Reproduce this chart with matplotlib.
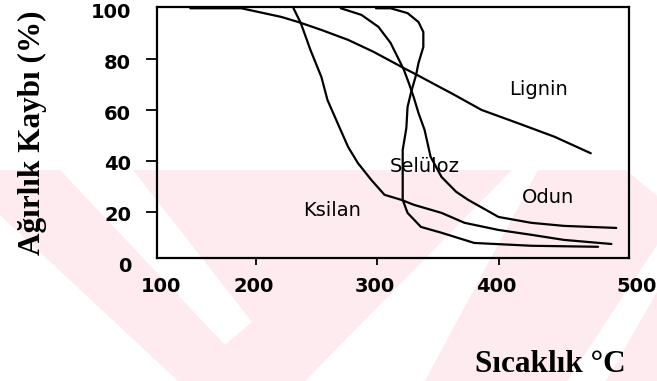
import matplotlib.pyplot as plt
import matplotlib.transforms as mtransforms
from matplotlib.patches import Polygon

# thermogravimetric curves (temperature, weight %)
lignin_x = [146, 188, 221, 235, 254, 276, 297, 322, 333, 353, 361, 386, 416, 446, 476]
lignin_y = [100, 100, 96.6, 94.6, 91.5, 87.6, 82.9, 76.5, 73.8, 68.7, 66.7, 60.1, 54.9, 49.6, 43.1]

ksilan_x = [231, 237, 245, 254, 259, 268, 276, 284, 295, 306, 320, 330, 353, 372, 400, 427, 454, 493]
ksilan_y = [100, 94.2, 83.6, 73.0, 64.0, 54.2, 45.6, 39.3, 32.7, 26.8, 24.8, 22.9, 19.7, 15.8, 13.0, 11.1, 9.1, 7.5]

seluloz_x = [299, 311, 325, 334, 338, 338, 334, 332, 328, 325, 324, 321, 321, 325, 336, 353, 380, 427, 482]
seluloz_y = [100, 100, 98.1, 94.6, 90.7, 84.8, 78.5, 73.8, 67.2, 61.3, 53.0, 44.4, 24.8, 19.7, 14.2, 11.9, 7.9, 6.8, 6.4]

odun_x = [270, 287, 301, 311, 318, 322, 326, 330, 334, 339, 344, 353, 365, 375, 400, 427, 454, 497]
odun_y = [100, 97.4, 92.7, 86.4, 79.7, 75.8, 70.7, 65.2, 58.9, 52.3, 41.7, 33.8, 28.0, 24.8, 18.1, 15.8, 14.6, 13.8]

x_ticks = [200, 300, 400]
x_tick_labels = ['100', '200', '300', '400', '500']
y_ticks = [20, 40, 60, 80]
y_tick_values = [100, 80, 60, 40, 20, 0]

curve_names = ['Lignin', 'Selüloz', 'Odun', 'Ksilan']
name_x = [433, 339, 441, 263]
name_y = [68, 38, 25.6, 20.5]

W, H = 657, 381
fig = plt.figure(figsize=(W / 100, H / 100), dpi=100)

# faint pink watermark of the scanned thesis page (pixel outlines, y downward)
pink = '#fdebef'
wm_pink = [[(0, 170), (657, 170), (657, 381), (0, 381)]]
wm_white = [
    [(0, 215), (0, 381), (178, 381)],
    [(60, 170), (133, 170), (252, 322), (225, 345)],
    [(305, 381), (425, 381), (538, 170), (512, 170)],
    [(567, 381), (606, 381), (657, 292), (657, 245)],
    [(626, 170), (657, 170), (657, 196)],
]
for poly, col in [(p, pink) for p in wm_pink] + [(p, 'white') for p in wm_white]:
    pts = [(px / W, 1 - py / H) for px, py in poly]
    fig.add_artist(Polygon(pts, closed=True, transform=fig.transFigure,
                           facecolor=col, edgecolor='none', zorder=-5))

ax = fig.add_axes([157 / W, 1 - 258 / H, (629 - 157) / W, (258 - 7) / H])
ax.patch.set_alpha(0)

for xs, ys in [(lignin_x, lignin_y), (ksilan_x, ksilan_y), (seluloz_x, seluloz_y), (odun_x, odun_y)]:
    ax.plot(xs, ys, color='black', linewidth=1.6, solid_capstyle='round', solid_joinstyle='round')

ax.set_xlim(118.5, 507.5)
ax.set_ylim(2, 100.5)
for s in ax.spines.values():
    s.set_linewidth(1.6)

ax.set_xticks(x_ticks)
ax.set_xticklabels([])
ax.set_yticks(y_ticks)
ax.set_yticklabels([])
ax.tick_params(axis='x', direction='out', length=5, width=1.3)
ax.tick_params(axis='y', direction='out', length=8, width=1.3)

tick_font = dict(family='DejaVu Sans', fontsize=14, fontweight='bold')

# x tick labels: 100 and 500 sit at the ends of the frame, the rest on the ticks
x0, x1 = ax.get_xlim()
x_label_pos = [x0 + 3] + [t - 2 for t in x_ticks] + [x1 + 6]
trans_x = mtransforms.blended_transform_factory(ax.transData, ax.transAxes)
for xv, lab in zip(x_label_pos, x_tick_labels):
    ax.text(xv, -0.115, lab, transform=trans_x, ha='center', va='center', clip_on=False, **tick_font)

trans_y = mtransforms.blended_transform_factory(ax.transAxes, ax.transData)
for yv in y_tick_values:
    ax.text(-0.055, yv - 1.5, str(yv), transform=trans_y, ha='right', va='center', clip_on=False, **tick_font)

for name, tx, ty in zip(curve_names, name_x, name_y):
    ax.text(tx, ty, name, ha='center', va='center', family='DejaVu Sans', fontsize=14)

fig.text(0.05, 0.651, 'Ağırlık Kaybı (%)', rotation=90, ha='center', va='center',
         family='Liberation Serif', fontweight='bold', fontsize=22.5)
fig.text(0.837, 0.024, 'Sıcaklık °C', ha='center', va='baseline',
         family='Liberation Serif', fontweight='bold', fontsize=22.5)

fig.savefig('out.png', dpi=100)
